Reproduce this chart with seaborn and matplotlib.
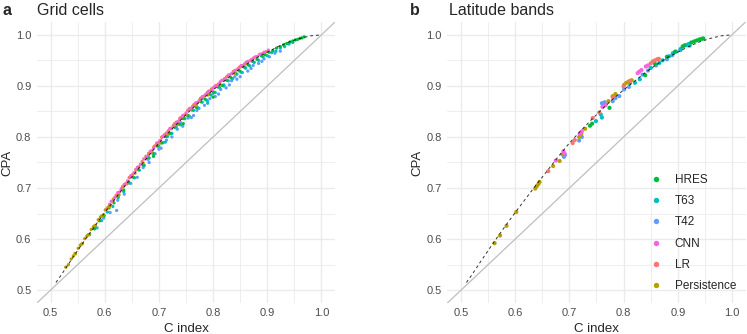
import matplotlib
matplotlib.use("Agg")
import matplotlib.pyplot as plt
import pandas as pd
import seaborn as sns

# series names and colours (ggplot hue palette)
models = ["HRES", "T63", "T42", "CNN", "LR", "Persistence"]
colors = {"HRES": "#00BA38", "T63": "#00BFC4", "T42": "#619CFF",
          "CNN": "#F564E3", "LR": "#F8766D", "Persistence": "#B79F00"}

# dashed reference curve
curve_c = [0.51, 0.52, 0.54, 0.56, 0.58, 0.60, 0.62, 0.64, 0.66, 0.68, 0.70, 0.72, 0.74,
           0.76, 0.78, 0.80, 0.82, 0.84, 0.86, 0.88, 0.90, 0.92, 0.94, 0.96, 0.98, 1.00]
curve_cpa = [0.515, 0.530, 0.562, 0.593, 0.623, 0.652, 0.680, 0.708, 0.735, 0.762, 0.788,
             0.811, 0.833, 0.854, 0.874, 0.892, 0.909, 0.926, 0.941, 0.955, 0.966, 0.977,
             0.986, 0.993, 0.998, 1.000]

# ---- grid cells (panel a) ----
grid_persistence = [
    (0.528, 0.545), (0.533, 0.550), (0.538, 0.561), (0.542, 0.567), (0.545, 0.572),
    (0.546, 0.571), (0.551, 0.582), (0.555, 0.588), (0.557, 0.590), (0.559, 0.591),
    (0.563, 0.601), (0.567, 0.606), (0.569, 0.608), (0.571, 0.609), (0.575, 0.619),
    (0.579, 0.624), (0.581, 0.626), (0.583, 0.627), (0.588, 0.638), (0.592, 0.643),
    (0.594, 0.645), (0.597, 0.647), (0.601, 0.657), (0.606, 0.662), (0.608, 0.664),
    (0.611, 0.666), (0.616, 0.678), (0.621, 0.683), (0.623, 0.685), (0.626, 0.687),
    (0.631, 0.699), (0.636, 0.705), (0.641, 0.708), (0.646, 0.721), (0.651, 0.726),
    (0.656, 0.729), (0.661, 0.741), (0.666, 0.746), (0.671, 0.749), (0.676, 0.762),
    (0.681, 0.767), (0.686, 0.769), (0.691, 0.781), (0.696, 0.787), (0.701, 0.788),
    (0.706, 0.800), (0.711, 0.805), (0.716, 0.806), (0.721, 0.817), (0.727, 0.823),
    (0.733, 0.824), (0.739, 0.837), (0.745, 0.842), (0.751, 0.844), (0.757, 0.856),
    (0.763, 0.861), (0.769, 0.862), (0.776, 0.874), (0.783, 0.880), (0.790, 0.882),
    (0.797, 0.894), (0.805, 0.900), (0.813, 0.902), (0.821, 0.914), (0.830, 0.921),
    (0.840, 0.925), (0.850, 0.937), (0.860, 0.943)]
grid_lr = [
    (0.603, 0.659), (0.609, 0.668), (0.615, 0.675), (0.621, 0.686), (0.627, 0.692),
    (0.633, 0.703), (0.639, 0.709), (0.645, 0.720), (0.651, 0.725), (0.657, 0.736),
    (0.663, 0.741), (0.669, 0.752), (0.675, 0.757), (0.681, 0.768), (0.687, 0.773),
    (0.693, 0.783), (0.699, 0.789), (0.705, 0.799), (0.711, 0.803), (0.717, 0.812),
    (0.723, 0.816), (0.729, 0.826), (0.735, 0.830), (0.741, 0.838), (0.747, 0.843),
    (0.753, 0.852), (0.759, 0.855), (0.765, 0.864), (0.771, 0.867), (0.777, 0.876),
    (0.783, 0.879), (0.789, 0.887), (0.795, 0.890), (0.801, 0.897), (0.807, 0.901),
    (0.813, 0.908), (0.819, 0.911), (0.825, 0.918), (0.831, 0.922), (0.837, 0.928),
    (0.843, 0.931), (0.849, 0.937), (0.855, 0.940), (0.861, 0.946), (0.868, 0.949),
    (0.875, 0.955), (0.882, 0.958), (0.890, 0.963), (0.898, 0.967)]
grid_cnn = [
    (0.612, 0.674), (0.618, 0.681), (0.624, 0.691), (0.630, 0.697), (0.636, 0.707),
    (0.642, 0.714), (0.648, 0.724), (0.654, 0.730), (0.660, 0.740), (0.666, 0.746),
    (0.672, 0.757), (0.678, 0.762), (0.684, 0.772), (0.690, 0.778), (0.696, 0.788),
    (0.702, 0.793), (0.708, 0.802), (0.714, 0.808), (0.720, 0.816), (0.726, 0.821),
    (0.732, 0.829), (0.738, 0.834), (0.744, 0.842), (0.750, 0.847), (0.756, 0.855),
    (0.762, 0.859), (0.768, 0.867), (0.774, 0.871), (0.780, 0.879), (0.786, 0.883),
    (0.792, 0.890), (0.798, 0.893), (0.804, 0.900), (0.810, 0.904), (0.816, 0.911),
    (0.822, 0.914), (0.828, 0.921), (0.834, 0.924), (0.840, 0.930), (0.846, 0.934),
    (0.852, 0.940), (0.858, 0.943), (0.864, 0.948), (0.871, 0.952), (0.878, 0.957),
    (0.886, 0.962), (0.894, 0.966), (0.902, 0.970)]
grid_hres = [
    (0.572, 0.609), (0.581, 0.620), (0.590, 0.636), (0.599, 0.646), (0.608, 0.661),
    (0.617, 0.671), (0.626, 0.686), (0.635, 0.696), (0.644, 0.712), (0.653, 0.721),
    (0.662, 0.736), (0.671, 0.745), (0.680, 0.760), (0.689, 0.768), (0.690, 0.762),
    (0.697, 0.782), (0.705, 0.788), (0.713, 0.801), (0.721, 0.807), (0.729, 0.819),
    (0.737, 0.825), (0.745, 0.836), (0.745, 0.826), (0.753, 0.842), (0.761, 0.853),
    (0.769, 0.858), (0.777, 0.869), (0.785, 0.874), (0.793, 0.884), (0.800, 0.878),
    (0.801, 0.888), (0.809, 0.898), (0.817, 0.901), (0.825, 0.911), (0.833, 0.916),
    (0.841, 0.925), (0.849, 0.929), (0.857, 0.937), (0.865, 0.941), (0.873, 0.948),
    (0.881, 0.952), (0.889, 0.959), (0.896, 0.961), (0.903, 0.966), (0.910, 0.969),
    (0.917, 0.974), (0.924, 0.977), (0.930, 0.980), (0.936, 0.983), (0.942, 0.986),
    (0.947, 0.988), (0.952, 0.990), (0.956, 0.991), (0.960, 0.993), (0.964, 0.994),
    (0.968, 0.996)]
grid_t63 = [
    (0.583, 0.622), (0.594, 0.636), (0.605, 0.653), (0.615, 0.664), (0.625, 0.681),
    (0.635, 0.693), (0.645, 0.710), (0.655, 0.720), (0.664, 0.735), (0.673, 0.744),
    (0.682, 0.759), (0.691, 0.767), (0.700, 0.782), (0.708, 0.789), (0.712, 0.790),
    (0.716, 0.801), (0.724, 0.807), (0.732, 0.819), (0.740, 0.824), (0.748, 0.836),
    (0.756, 0.841), (0.764, 0.852), (0.772, 0.857), (0.780, 0.868), (0.788, 0.872),
    (0.790, 0.866), (0.796, 0.882), (0.804, 0.887), (0.812, 0.897), (0.820, 0.900),
    (0.828, 0.910), (0.836, 0.914), (0.844, 0.923), (0.852, 0.927), (0.860, 0.935),
    (0.868, 0.939), (0.876, 0.946), (0.884, 0.950), (0.892, 0.957), (0.900, 0.959),
    (0.908, 0.965), (0.916, 0.968), (0.924, 0.974), (0.932, 0.977), (0.940, 0.982),
    (0.947, 0.985)]
grid_t42 = [
    (0.586, 0.622), (0.598, 0.641), (0.610, 0.652), (0.622, 0.656), (0.624, 0.676),
    (0.636, 0.688), (0.648, 0.709), (0.660, 0.721), (0.671, 0.740), (0.680, 0.756),
    (0.682, 0.750), (0.693, 0.767), (0.700, 0.776), (0.704, 0.778), (0.714, 0.794),
    (0.720, 0.806), (0.724, 0.800), (0.734, 0.815), (0.740, 0.828), (0.744, 0.821),
    (0.754, 0.837), (0.760, 0.838), (0.764, 0.842), (0.770, 0.852), (0.774, 0.856),
    (0.784, 0.862), (0.790, 0.870), (0.794, 0.875), (0.800, 0.885), (0.804, 0.879),
    (0.810, 0.884), (0.814, 0.893), (0.820, 0.902), (0.824, 0.896), (0.830, 0.902),
    (0.834, 0.910), (0.840, 0.918), (0.844, 0.913), (0.850, 0.918), (0.854, 0.926),
    (0.860, 0.935), (0.864, 0.929), (0.870, 0.934), (0.874, 0.940), (0.884, 0.944),
    (0.890, 0.948), (0.894, 0.953), (0.904, 0.957), (0.914, 0.964), (0.924, 0.968)]

# ---- latitude bands (panel b) ----
lat_persistence = [
    (0.562, 0.592), (0.572, 0.607), (0.584, 0.626), (0.602, 0.653), (0.637, 0.699),
    (0.640, 0.704), (0.643, 0.708), (0.645, 0.712), (0.670, 0.743), (0.682, 0.753),
    (0.687, 0.766), (0.718, 0.800), (0.720, 0.804), (0.722, 0.806), (0.729, 0.816),
    (0.767, 0.863), (0.772, 0.870), (0.780, 0.880), (0.785, 0.884), (0.801, 0.902),
    (0.805, 0.906), (0.809, 0.908), (0.812, 0.910), (0.815, 0.911)]
lat_hres = [
    (0.738, 0.822), (0.742, 0.826), (0.774, 0.857), (0.811, 0.906), (0.840, 0.921),
    (0.858, 0.943), (0.880, 0.957), (0.895, 0.967), (0.909, 0.977), (0.912, 0.979),
    (0.925, 0.985), (0.930, 0.987), (0.935, 0.989), (0.940, 0.991), (0.944, 0.992),
    (0.947, 0.993)]
lat_t63 = [
    (0.749, 0.831), (0.758, 0.844), (0.760, 0.838), (0.821, 0.906), (0.830, 0.913),
    (0.850, 0.935), (0.866, 0.945), (0.872, 0.950), (0.884, 0.958), (0.891, 0.964),
    (0.905, 0.972), (0.915, 0.980), (0.920, 0.982), (0.922, 0.979)]
lat_t42 = [
    (0.690, 0.761), (0.692, 0.765), (0.718, 0.793), (0.723, 0.800), (0.760, 0.866),
    (0.765, 0.868), (0.780, 0.870), (0.785, 0.876), (0.792, 0.880), (0.801, 0.893),
    (0.810, 0.898), (0.835, 0.922), (0.845, 0.930), (0.860, 0.940), (0.880, 0.952),
    (0.890, 0.960), (0.897, 0.967), (0.905, 0.970)]
lat_cnn = [
    (0.675, 0.754), (0.689, 0.772), (0.691, 0.768), (0.719, 0.806), (0.721, 0.808),
    (0.723, 0.811), (0.761, 0.859), (0.766, 0.862), (0.826, 0.925), (0.829, 0.928),
    (0.833, 0.931), (0.841, 0.938), (0.845, 0.940)]
lat_lr = [
    (0.661, 0.733), (0.706, 0.788), (0.710, 0.794), (0.743, 0.837), (0.755, 0.848),
    (0.780, 0.878), (0.800, 0.899), (0.812, 0.909), (0.850, 0.944), (0.854, 0.948),
    (0.858, 0.950), (0.862, 0.952), (0.865, 0.953)]


def to_frame(series):
    rows = []
    for name, pts in series:
        for c, p in pts:
            rows.append({"model": name, "C index": c, "CPA": p})
    return pd.DataFrame(rows)


# draw order: blue underneath, reds on top
grid_df = to_frame([("T42", grid_t42), ("T63", grid_t63), ("HRES", grid_hres),
                    ("Persistence", grid_persistence), ("LR", grid_lr), ("CNN", grid_cnn)])
lat_df = to_frame([("T42", lat_t42), ("T63", lat_t63), ("HRES", lat_hres),
                   ("Persistence", lat_persistence), ("LR", lat_lr), ("CNN", lat_cnn)])

sns.set_style("white")
plt.rcParams["font.family"] = ["Liberation Sans", "DejaVu Sans"]

fig = plt.figure(figsize=(7.47, 3.34), dpi=100)
ax_a = fig.add_axes([0.0495, 0.093, 0.399, 0.841])
ax_b = fig.add_axes([0.599, 0.093, 0.399, 0.841])

for ax, df, size in [(ax_a, grid_df, 5.5), (ax_b, lat_df, 9)]:
    ax.axline((0.5, 0.5), slope=1, color="#BEBEBE", lw=0.9, zorder=1)
    sns.scatterplot(data=df, x="C index", y="CPA", hue="model", hue_order=models,
                    palette=colors, s=size, linewidth=0, ax=ax, legend=(ax is ax_b),
                    zorder=2)
    ax.plot(curve_c, curve_cpa, color="black", ls=(0, (3, 3)), lw=0.7, alpha=0.8, zorder=3)
    ax.set_xlim(0.475, 1.025)
    ax.set_ylim(0.475, 1.025)
    ax.set_xticks([0.5, 0.6, 0.7, 0.8, 0.9, 1.0])
    ax.set_yticks([0.5, 0.6, 0.7, 0.8, 0.9, 1.0])
    ax.set_xticks([0.55, 0.65, 0.75, 0.85, 0.95], minor=True)
    ax.set_yticks([0.55, 0.65, 0.75, 0.85, 0.95], minor=True)
    ax.grid(which="major", color="#EBEBEB", lw=1.0)
    ax.grid(which="minor", color="#EBEBEB", lw=0.6)
    ax.set_axisbelow(True)
    for sp in ax.spines.values():
        sp.set_visible(False)
    ax.tick_params(which="both", length=0, labelsize=8, labelcolor="#4D4D4D", pad=4)
    ax.set_xlabel("C index", fontsize=9.5, labelpad=3)
    ax.set_ylabel("CPA", fontsize=9.5, labelpad=2)

handles, labels = ax_b.get_legend_handles_labels()
ax_b.legend(handles, labels, loc="upper left", bbox_to_anchor=(0.66, 0.48),
            frameon=False, fontsize=8.5, markerscale=1.3, handletextpad=1.1,
            labelspacing=0.78, handlelength=1.0, borderpad=0)

fig.text(0.003, 0.97, "a", fontsize=11.5, fontweight="bold", va="center")
fig.text(0.0495, 0.97, "Grid cells", fontsize=11.5, va="center")
fig.text(0.549, 0.97, "b", fontsize=11.5, fontweight="bold", va="center")
fig.text(0.601, 0.97, "Latitude bands", fontsize=11.5, va="center")

fig.savefig("out.png", dpi=100)
